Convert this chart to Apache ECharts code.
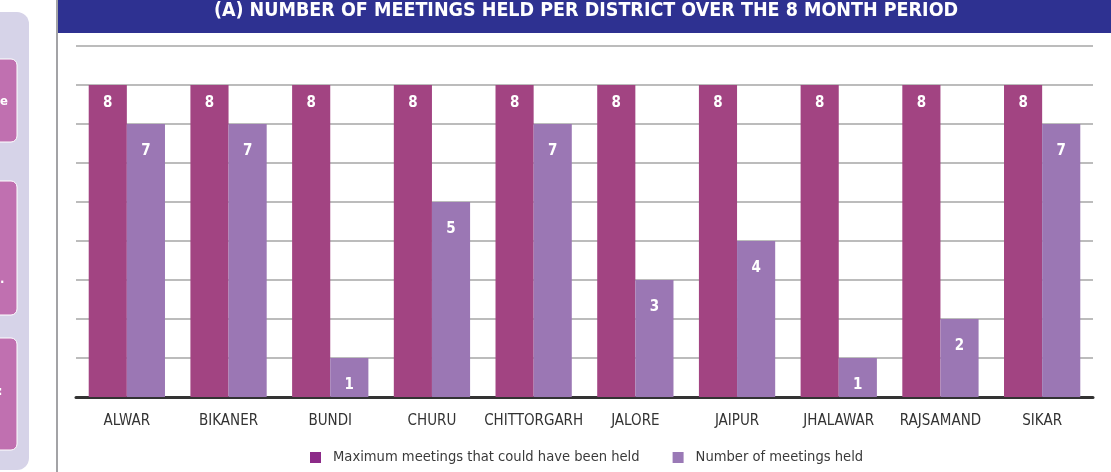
<!DOCTYPE html>
<html>
<head>
<meta charset="utf-8">
<script src="https://cdn.jsdelivr.net/npm/echarts@6/dist/echarts.min.js"></script>
<style>
  html, body { margin: 0; padding: 0; background: #fff; }
  #chart { width: 1111px; height: 472px; }
</style>
</head>
<body>
<div id="chart"></div>
<script>
var districts = ['ALWAR', 'BIKANER', 'BUNDI', 'CHURU', 'CHITTORGARH', 'JALORE', 'JAIPUR', 'JHALAWAR', 'RAJSAMAND', 'SIKAR'];
var maxMeetings = [8, 8, 8, 8, 8, 8, 8, 8, 8, 8];
var heldMeetings = [7, 7, 1, 5, 7, 3, 4, 1, 2, 7];
var seriesNames = ['Maximum meetings that could have been held', 'Number of meetings held'];

var narrow = '"Liberation Sans Narrow", "DejaVu Sans Condensed", "Liberation Sans", sans-serif';

var chartobj = echarts.init(document.getElementById('chart'));

var barLabel = {
    show: true,
    position: 'insideTop',
    distance: 11,
    color: '#fff',
    fontFamily: narrow,
    fontWeight: 'bold',
    fontSize: 15
};

var option = {
    animation: false,
    backgroundColor: '#fff',
    title: {
        text: '(A) NUMBER OF MEETINGS HELD PER DISTRICT OVER THE 8 MONTH PERIOD',
        left: 581,
        textAlign: 'center',
        top: -4,
        textStyle: {
            color: '#fff',
            fontFamily: narrow,
            fontWeight: 'bold',
            fontSize: 19.5
        }
    },
    graphic: [
        // left sidebar
        { type: 'rect', z: -1, shape: { x: -20, y: 12, width: 49, height: 458, r: 12 }, style: { fill: '#d6d3e8' } },
        { type: 'rect', shape: { x: -10, y: 59, width: 27, height: 83, r: 6 }, style: { fill: '#c070b0', stroke: '#fff', lineWidth: 1 } },
        { type: 'rect', shape: { x: -10, y: 181, width: 27, height: 134, r: 6 }, style: { fill: '#c070b0', stroke: '#fff', lineWidth: 1 } },
        { type: 'rect', shape: { x: -10, y: 338, width: 27, height: 112, r: 6 }, style: { fill: '#c070b0', stroke: '#fff', lineWidth: 1 } },
        { type: 'text', x: 0, y: 95, style: { text: 'e', fill: '#fff', font: 'bold 13px ' + narrow } },
        { type: 'text', x: 0, y: 273, style: { text: '.', fill: '#fff', font: 'bold 13px ' + narrow } },
        { type: 'text', x: -2, y: 386, style: { text: ':', fill: '#fff', font: 'bold 12px ' + narrow } },
        // divider and title bar
        { type: 'rect', shape: { x: 56, y: 0, width: 2, height: 472 }, style: { fill: '#a3a3a6' } },
        { type: 'rect', z: -1, shape: { x: 57, y: 0, width: 1054, height: 33 }, style: { fill: '#2e3191' } }
    ],
    legend: {
        bottom: 2,
        left: 305,
        itemWidth: 11,
        itemHeight: 11,
        itemGap: 33,
        icon: 'rect',
        textStyle: { color: '#3a3a3a', fontFamily: narrow, fontSize: 14.6, padding: [0, 0, 0, 7] },
        data: [
            { name: seriesNames[0], itemStyle: { color: '#8c2a88' } },
            { name: seriesNames[1], itemStyle: { color: '#9a79b6' } }
        ]
    },
    grid: {
        left: 76,
        right: 18,
        top: 46,
        bottom: 75
    },
    xAxis: {
        type: 'category',
        data: districts,
        axisLine: { lineStyle: { color: '#333', width: 3 } },
        axisTick: { show: false },
        axisLabel: { interval: 0, color: '#333', fontFamily: narrow, fontSize: 15, margin: 17 }
    },
    yAxis: {
        type: 'value',
        min: 0,
        max: 9,
        interval: 1,
        axisLabel: { show: false },
        axisLine: { show: false },
        axisTick: { show: false },
        splitLine: { lineStyle: { color: '#a6a6a6', width: 1.5 } }
    },
    series: [
        {
            name: seriesNames[0],
            type: 'bar',
            data: maxMeetings,
            barGap: '0%',
            barCategoryGap: '25%',
            itemStyle: { color: '#a24482' },
            label: barLabel
        },
        {
            name: seriesNames[1],
            type: 'bar',
            data: heldMeetings,
            itemStyle: { color: '#9b77b4' },
            label: Object.assign({}, barLabel, { distance: 20 })
        }
    ]
};
chartobj.setOption(option);
</script>
</body>
</html>
